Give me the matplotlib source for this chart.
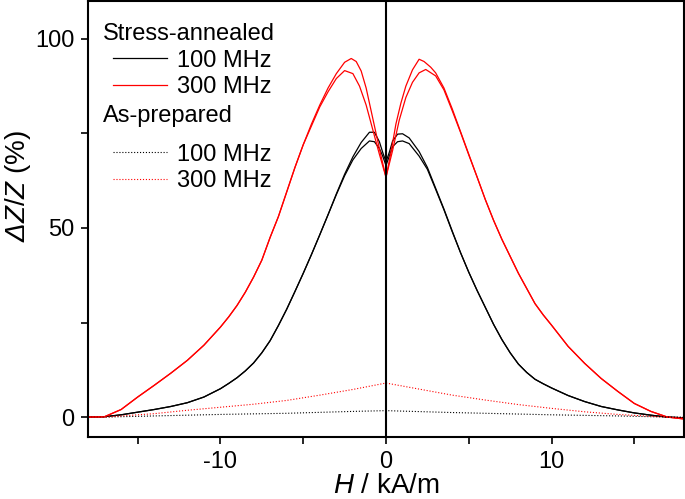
import numpy as np
import matplotlib
matplotlib.use("Agg")
import matplotlib.pyplot as plt
from matplotlib.lines import Line2D
from matplotlib.legend_handler import HandlerLine2D
from matplotlib.ticker import MultipleLocator

plt.rcParams['font.family'] = ['Liberation Sans', 'DejaVu Sans']
plt.rcParams['axes.unicode_minus'] = False
plt.rcParams['mathtext.fontset'] = 'custom'
plt.rcParams['mathtext.rm'] = 'Liberation Sans'
plt.rcParams['mathtext.it'] = 'Liberation Sans:italic'
plt.rcParams['mathtext.sf'] = 'Liberation Sans:italic'

# ===== data =====
# stress-annealed, 300 MHz, two sweep branches
h_sa300_a = [-18, -17, -16, -15, -14, -13, -12, -11, -10, -9.5, -9, -8.5, -8, -7.5,
             -7, -6.5, -6, -5.5, -5, -4.5, -4, -3.5, -3, -2.5, -2.1, -1.8, -1.5,
             -1.2, -0.9, -0.6, -0.3, 0, 0.3, 0.6, 0.9, 1.2, 1.6, 2.0, 2.3, 2.7,
             3, 3.5, 4, 4.5, 5, 5.5, 6, 6.5, 7, 7.5, 8, 8.5, 9, 9.5, 10,
             11, 12, 13, 14, 15, 16, 17, 18]
z_sa300_a = [0, 0.1, 2.0, 5.3, 8.4, 11.6, 15, 19, 23.8, 26.5, 29.5, 33, 37, 41.5,
             47.5, 53, 59.5, 66, 72, 77.5, 82.5, 87, 90.8, 93.8, 94.8, 94, 91.5,
             87, 81, 75, 69, 63.4, 70, 77.5, 83, 87.5, 91.8, 94.6, 94, 92.5,
             91, 87, 81.5, 75.5, 69.5, 63.5, 57.5, 52, 47, 42.5, 38, 34, 30, 27, 24.3,
             18.7, 14.2, 10.2, 6.8, 3.6, 1.5, 0, -0.5]
h_sa300_b = [-18, -17, -16, -15, -14, -13, -12, -11, -10, -9.5, -9, -8.5, -8, -7.5,
             -7, -6.5, -6, -5.5, -5, -4.5, -4, -3.5, -3, -2.5, -2.0, -1.6, -1.2,
             -0.8, -0.4, 0, 0.4, 0.8, 1.2, 1.6, 2.0, 2.4, 3, 3.5, 4, 4.5, 5,
             5.5, 6, 6.5, 7, 7.5, 8, 8.5, 9, 9.5, 10,
             11, 12, 13, 14, 15, 16, 17, 18]
z_sa300_b = [0, 0.1, 2.0, 5.3, 8.4, 11.6, 15, 19, 23.8, 26.5, 29.5, 33, 37, 41.5,
             47.5, 53, 59.5, 66, 72, 77, 82, 86, 89.5, 91.6, 90.8, 87.5, 82.5,
             76, 69.5, 63.4, 70.5, 78.5, 84.5, 88.5, 91, 91.9, 90.2, 86.5, 81, 75.3, 69.3,
             63.5, 57.5, 52, 47, 42.5, 38, 34, 30, 27, 24.3,
             18.7, 14.2, 10.2, 6.8, 3.6, 1.5, 0, -0.5]

# stress-annealed, 100 MHz, two sweep branches
h_sa100 = [-18, -17, -16, -15, -14, -13, -12, -11, -10, -9.5, -9, -8.5, -8, -7.5,
           -7, -6.5, -6, -5.5, -5, -4.5, -4, -3.5, -3, -2.5, -2, -1.5, -1.0, -0.7,
           -0.4, -0.2, 0, 0.2, 0.4, 0.7, 1.0, 1.4, 2, 2.5, 3, 3.5, 4, 4.5, 5,
           5.5, 6, 6.5, 7, 7.5, 8, 8.5, 9, 9.5, 10, 11, 12, 13, 14, 15, 16, 17, 18]
z_sa100_a = [0, 0.1, 0.6, 1.3, 2.0, 2.8, 3.8, 5.3, 7.5, 8.9, 10.4, 12.2, 14.3, 17,
             20.2, 24.2, 28.5, 33.2, 38, 43, 48.2, 53.5, 59, 64.2, 68.8, 72.6, 75.3, 75.3,
             72.8, 70, 67.5, 70, 73, 74.8, 74.9, 73.8, 70.2, 66, 60.5, 55, 49.2, 43.5, 38.3,
             33.5, 29, 24.5, 20.5, 17, 14, 11.8, 10, 8.8, 7.7, 5.7, 4.1, 2.8, 1.9, 1.1, 0.5, 0, -0.2]
z_sa100_b = [0, 0.1, 0.6, 1.3, 2.0, 2.8, 3.8, 5.3, 7.5, 8.9, 10.4, 12.2, 14.3, 17,
             20.2, 24.2, 28.5, 33.2, 38, 43, 48.2, 53.5, 58.8, 63.8, 68, 71, 73, 72.8,
             71, 69, 66.5, 69, 71.5, 72.8, 73, 72.3, 69, 65.5, 60.2, 54.8, 49, 43.5, 38.3,
             33.5, 29, 24.5, 20.5, 17, 14, 11.8, 10, 8.8, 7.7, 5.7, 4.1, 2.8, 1.9, 1.1, 0.5, 0, -0.2]

# as-prepared
h_ap = [-18, -17, -16, -14, -12, -10, -8, -6, -4, -2, 0, 2, 4, 6, 8, 10, 12, 14, 16, 17, 18]
z_ap300 = [0, 0, 0.3, 0.9, 1.8, 2.6, 3.4, 4.4, 5.8, 7.3, 9.0,
           7.4, 5.8, 4.5, 3.3, 2.3, 1.4, 0.7, 0.2, 0, -0.2]
z_ap100 = [0, 0, 0.1, 0.3, 0.5, 0.7, 0.85, 1.0, 1.25, 1.5, 1.7,
           1.45, 1.2, 1.0, 0.8, 0.6, 0.45, 0.3, 0.1, 0, 0]

# ===== plot =====
fig = plt.figure(figsize=(6.85, 4.99), dpi=100)
ax = fig.add_axes([0.1285, 0.124, 0.870, 0.874])

ax.plot(h_sa100, z_sa100_a, color='black', lw=0.9)
ax.plot(h_sa100, z_sa100_b, color='black', lw=0.9)
ax.plot(h_sa300_a, z_sa300_a, color='red', lw=0.9)
ax.plot(h_sa300_b, z_sa300_b, color='red', lw=0.9)
ax.plot(h_ap, z_ap100, color='black', lw=0.8, ls=':')
ax.plot(h_ap, z_ap300, color='red', lw=0.8, ls=':')
ax.axvline(0, color='black', lw=1.5)

ax.set_xlim(-18, 18)
ax.set_ylim(-5.3, 110)
ax.xaxis.set_major_locator(MultipleLocator(10))
ax.xaxis.set_minor_locator(MultipleLocator(5))
ax.yaxis.set_major_locator(MultipleLocator(50))
ax.yaxis.set_minor_locator(MultipleLocator(25))
ax.tick_params(which='both', direction='out', width=1.2, labelsize=17, length=5)
ax.tick_params(axis='x', which='both', pad=5)
ax.tick_params(axis='y', which='both', pad=5)
for s in ax.spines.values():
    s.set_linewidth(1.5)

ax.set_xlabel(r'$H$ / kA/m', fontsize=20, labelpad=0)
ax.set_ylabel(r'$\mathsf{\Delta}Z/Z$ (%)', fontsize=20)
ax.yaxis.set_label_coords(-0.092, 0.575)

# legends
fs = 17
hmap = {Line2D: HandlerLine2D(marker_pad=0.42)}
h1 = [Line2D([], [], color='black', lw=0.9), Line2D([], [], color='red', lw=0.9)]
leg1 = ax.legend(h1, ['100 MHz', '300 MHz'], title='Stress-annealed',
                 loc='upper left', bbox_to_anchor=(0.025, 0.950), frameon=False,
                 fontsize=fs, title_fontsize=fs, alignment='left',
                 numpoints=2, handler_map=hmap, handlelength=3.13,
                 handletextpad=0.0, labelspacing=0.2, borderpad=0, borderaxespad=0)
ax.add_artist(leg1)
ax.text(0.025, 0.736, 'As-prepared', transform=ax.transAxes, fontsize=fs,
        ha='left', va='center')
h2 = [Line2D([], [], color='black', lw=0.8, ls=':'), Line2D([], [], color='red', lw=0.8, ls=':')]
ax.legend(h2, ['100 MHz', '300 MHz'],
          loc='upper left', bbox_to_anchor=(0.025, 0.673), frameon=False,
          fontsize=fs, numpoints=2, handler_map=hmap, handlelength=3.13,
          handletextpad=0.0, labelspacing=0.2, borderpad=0, borderaxespad=0)

fig.savefig('out.png', dpi=100)
